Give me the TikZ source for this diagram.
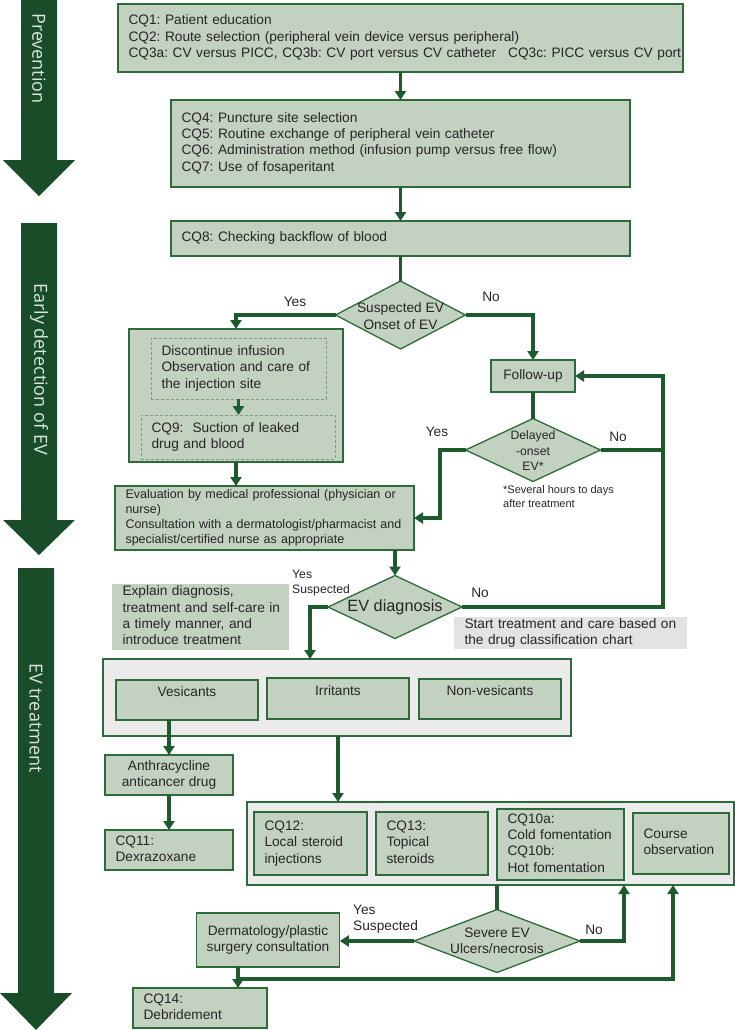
\documentclass[tikz,border=0pt]{standalone}
\usepackage{fontspec}
\setmainfont{Liberation Sans}
\newfontfamily\lblfont{Open Sans}
\usetikzlibrary{arrows.meta,shapes.geometric,calc}
\frenchspacing
\definecolor{arrowgreen}{HTML}{194D2A}
\definecolor{boxfill}{HTML}{C3D1C0}
\definecolor{boxline}{HTML}{2E6B3A}
\definecolor{linegreen}{HTML}{1D5A2D}
\definecolor{greyfill}{HTML}{EBEBEB}
\definecolor{notefill}{HTML}{E3E3E3}
\definecolor{txt}{HTML}{262626}
\definecolor{lbl}{HTML}{DDE5DD}
\definecolor{dashclr}{HTML}{7E9E80}
\newcommand\lns[1]{\noindent\begin{tabular}{@{}l@{}}#1\end{tabular}}
% left-aligned box: name, x1, y1, x2, y2, options, text
\newcommand\mkbox[7]{%
  \pgfmathsetmacro\mkW{#4-#2}%
  \pgfmathsetmacro\mkH{#5-#3}%
  \pgfmathsetmacro\mkT{#4-#2-21}%
  \pgfmathsetmacro\mkX{(#2+#4)/2}%
  \pgfmathsetmacro\mkY{(#3+#5)/2}%
  \node[#6, text width=\mkT pt, minimum width=\mkW pt, minimum height=\mkH pt] (#1) at (\mkX,\mkY) {#7};}
% centred box
\newcommand\mkcbox[7]{%
  \pgfmathsetmacro\mkW{#4-#2}%
  \pgfmathsetmacro\mkH{#5-#3}%
  \pgfmathsetmacro\mkX{(#2+#4)/2}%
  \pgfmathsetmacro\mkY{(#3+#5)/2}%
  \node[#6, minimum width=\mkW pt, minimum height=\mkH pt] (#1) at (\mkX,\mkY) {#7};}
\begin{document}
\begin{tikzpicture}[x=1pt,y=-1pt,
  txtA/.style={font=\fontsize{13.7}{16.3}\selectfont, text=txt},
  txtB/.style={font=\fontsize{12.5}{15}\selectfont, text=txt},
  txtS/.style={font=\fontsize{12.2}{15.5}\selectfont, text=txt},
  txtF/.style={font=\fontsize{11}{14}\selectfont, text=txt},
  gbox/.style={draw=boxline, fill=boxfill, line width=1.3pt, inner xsep=10.5pt, inner ysep=0pt, outer sep=0pt, txtA},
  lbox/.style={gbox, align=left},
  dbox/.style={draw=dashclr, dash pattern=on 3pt off 2pt, line width=0.8pt, inner xsep=10.5pt, inner ysep=0pt, outer sep=0pt, align=left, txtA},
  nbox/.style={fill=boxfill, inner xsep=10.5pt, inner ysep=0pt, outer sep=0pt, align=left, txtA},
  sbox/.style={fill=notefill, inner xsep=10.5pt, inner ysep=0pt, outer sep=0pt, align=left, txtA},
  cbox/.style={draw=boxline, fill=greyfill, line width=1.3pt, inner sep=0pt, outer sep=0pt},
  topbox/.style={gbox, text height=10pt, text depth=17pt},
  dmd/.style={diamond, draw=boxline, fill=boxfill, line width=1.3pt, inner sep=0pt, outer sep=0pt},
  dtext/.style={align=center, inner sep=0pt, txtA},
  lab/.style={inner sep=0pt, txtA},
  conn/.style={draw=linegreen, line width=3.4pt},
  arr/.style={conn, -{Triangle[length=9pt,width=11pt]}},
  phase/.style={rotate=-90, anchor=west, inner sep=0pt, text=lbl, font=\lblfont\fontsize{18}{20}\selectfont}
]
\useasboundingbox (0,0) rectangle (735,1030);

% phase arrows
\fill[arrowgreen] (21,0) -- (57,0) -- (57,160) -- (75,160) -- (39,196) -- (3,160) -- (21,160) -- cycle;
\fill[arrowgreen] (21,223) -- (57,223) -- (57,520) -- (75,520) -- (39,555) -- (3,520) -- (21,520) -- cycle;
\fill[arrowgreen] (18,568) -- (54,568) -- (54,993) -- (72,993) -- (36,1030) -- (0,993) -- (18,993) -- cycle;
\node[phase] (p1) at (39,13) {Prevention};
\node[phase] (p2) at (39,283) {Early detection of EV};
\node[phase] (p3) at (36,663) {EV treatment};

% prevention
\mkbox{b1}{118}{4}{683}{72}{lbox}{\lns{CQ1: Patient education\\CQ2: Route selection (peripheral vein device versus peripheral)\\CQ3a: CV versus PICC, CQ3b: CV port versus CV catheter\hspace{12pt}CQ3c: PICC versus CV port}}
\mkbox{b2}{171}{100}{630}{187}{lbox}{\lns{CQ4: Puncture site selection\\CQ5: Routine exchange of peripheral vein catheter\\CQ6: Administration method (infusion pump versus free flow)\\CQ7: Use of fosaperitant}}
\mkbox{b3}{171}{221}{630}{256}{lbox}{\lns{CQ8: Checking backflow of blood}}

% early detection
\node[dmd, minimum width=130pt, minimum height=68pt] (d1) at (400.5,315) {};
\node[dtext] (d1t) at (400.5,316) {Suspected EV\\Onset of EV};
\mkcbox{b4}{129}{329}{343}{462}{gbox}{}
\mkbox{dA}{151}{338}{326}{399}{dbox}{\lns{Discontinue infusion\\Observation and care of\\the injection site}}
\mkbox{dB}{141}{415}{335}{459}{dbox}{\lns{CQ9:\ \ Suction of leaked\\drug and blood}}
\mkbox{ev}{115}{486}{414}{550}{lbox,txtB}{\lns{Evaluation by medical professional (physician or\\nurse)\\Consultation with a dermatologist/pharmacist and\\specialist/certified nurse as appropriate}}
\mkcbox{fu}{491}{360}{575}{392}{gbox}{Follow-up}
\node[dmd, minimum width=135pt, minimum height=63pt] (d2) at (533,450) {};
\node[dtext, txtS] (d2t) at (533,451) {Delayed\\-onset\\EV*};
\node[inner sep=0pt, anchor=west, align=left, txtF] (fn) at (503,498) {\lns{*Several hours to days\\after treatment}};

% EV diagnosis
\node[dmd, minimum width=134pt, minimum height=63pt] (d3) at (395,607) {};
\node[dtext, font=\fontsize{16.3}{18}\selectfont] (d3t) at (395,607) {EV diagnosis};
\mkbox{ex}{112}{585}{289}{649}{nbox}{\lns{Explain diagnosis,\\treatment and self-care in\\a timely manner, and\\introduce treatment}}
\mkbox{st}{454}{617}{687}{649}{sbox}{\lns{Start treatment and care based on\\the drug classification chart}}

% treatment
\mkcbox{c1}{103}{659}{571}{736}{cbox}{}
\mkcbox{ves}{116}{680}{258}{720}{topbox}{Vesicants}
\mkcbox{irr}{267}{678}{409}{719}{topbox}{Irritants}
\mkcbox{nv}{419}{679}{561}{719}{topbox}{Non-vesicants}
\mkcbox{an}{105}{755}{233}{795}{gbox,align=center}{Anthracycline\\anticancer drug}
\mkbox{c11}{105}{830}{233}{870}{lbox}{\lns{CQ11:\\Dexrazoxane}}
\mkcbox{c2}{247}{802}{734}{885}{cbox}{}
\mkbox{q12}{254}{812}{367}{875}{lbox}{\lns{CQ12:\\Local steroid\\injections}}
\mkbox{q13}{376}{812}{488}{875}{lbox}{\lns{CQ13:\\Topical\\steroids}}
\mkbox{q10}{497}{809}{624}{880}{lbox}{\lns{CQ10a:\\Cold fomentation\\CQ10b:\\Hot fomentation}}
\mkbox{co}{633}{813}{729}{874}{lbox}{\lns{Course\\observation}}
\node[dmd, minimum width=166pt, minimum height=63pt] (d4) at (497,941) {};
\node[dtext] (d4t) at (497,941) {Severe EV\\Ulcers/necrosis};
\mkcbox{dm}{200}{913}{336}{967}{gbox,align=center}{Dermatology/plastic\\surgery consultation}
\mkbox{c14}{133}{988}{267}{1028}{lbox}{\lns{CQ14:\\Debridement}}

% labels
\node[lab] (l1) at (295,302) {Yes};
\node[lab] (l2) at (491,297) {No};
\node[lab] (l3) at (437,432) {Yes};
\node[lab] (l4) at (618,437) {No};
\node[lab, txtS, anchor=west, align=left] (l5) at (292,583) {\lns{Yes\\Suspected}};
\node[lab] (l6) at (480,593) {No};
\node[lab, anchor=west, align=left] (l7) at (353,919.5) {\lns{Yes\\Suspected}};
\node[lab] (l8) at (594,930) {No};

% connectors
\draw[arr] (b1.south) -- (b2.north);
\draw[arr] (b2.south) -- (b3.north);
\draw[conn] (b3.south) -- (d1.north);
\draw[arr] (d1.west) -| (b4.north);
\draw[arr] (d1.east) -| (fu.north);
\draw[arr] (dA.south) -- (dA.south |- dB.north);
\draw[arr] (b4.south) -- (b4.south |- ev.north);
\draw[conn] (fu.south) -- (d2.north);
\coordinate (yb) at (440,518);
\draw[arr] (d2.west) -| (yb) -- (ev.east);
\coordinate (rt) at (663,607);
\draw[conn] (d2.east) -- (d2.east -| rt);
\draw[arr] (d3.east) -- (rt) |- (fu.east);
\draw[arr] (ev.south -| d3.north) -- (d3.north);
\coordinate (ys) at (310,659);
\draw[arr] (d3.west) -| (ys);
\draw[arr] (an.north |- ves.south) -- (an.north);
\draw[arr] (an.south) -- (c11.north);
\draw[arr] (irr.south |- c1.south) -- (irr.south |- c2.north);
\draw[conn] (d4.north |- c2.south) -- (d4.north);
\draw[arr] (d4.east) -| (q10.east |- c2.south);
\draw[arr] (d4.west) -- (d4.west -| dm.east);
\coordinate (j1) at (238,979);
\coordinate (j2) at (673,885);
\draw[conn] (j1 |- dm.south) -- (j1);
\draw[arr] (j1) -- (j1 |- c14.north);
\draw[arr] (j1) -| (j2);
\end{tikzpicture}
\end{document}
